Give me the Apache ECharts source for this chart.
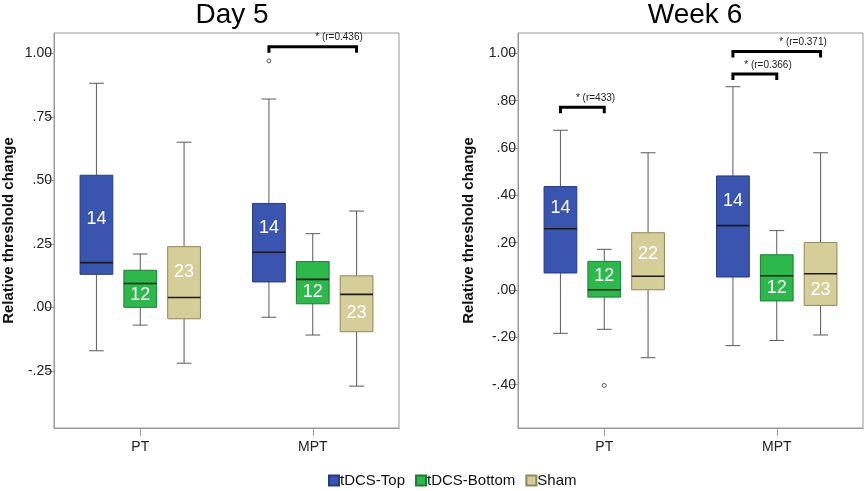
<!DOCTYPE html>
<html>
<head>
<meta charset="utf-8">
<script src="https://cdn.jsdelivr.net/npm/echarts@6/dist/echarts.min.js"></script>
<style>
html,body{margin:0;padding:0;background:#fff;}
#chart{width:864px;height:491px;}
</style>
</head>
<body>
<div id="chart"></div>
<script>
// categories and groups
var categories = ['PT', 'MPT'];
var groups = ['tDCS-Top', 'tDCS-Bottom', 'Sham'];
var groupColors = ['#3A55B0', '#2DB84B', '#D6CE98'];
var groupBorders = ['#253a85', '#1c7d34', '#8f875c'];

// Day 5 : [low, q1, median, q3, high, n] per category
var day5Top    = [[-0.171, 0.130, 0.176, 0.520, 0.882, 14], [-0.039, 0.100, 0.217, 0.409, 0.820, 14]];
var day5Bottom = [[-0.070, 0.000, 0.094, 0.146, 0.210, 12], [-0.109, 0.014, 0.110, 0.180, 0.290, 12]];
var day5Sham   = [[-0.220, -0.045, 0.039, 0.239, 0.650, 23], [-0.310, -0.096, 0.051, 0.124, 0.379, 23]];
// outliers: [category, group, value]
var day5Outliers = [[1, 0, 0.970]];
// brackets: [category, fromGroup, toGroup, value, label]
var day5Brackets = [[1, 0, 2, 1.026, '* (r=0.436)']];
var day5Ticks = [-0.25, 0, 0.25, 0.5, 0.75, 1];

// Week 6
var week6Top    = [[-0.183, 0.072, 0.259, 0.437, 0.675, 14], [-0.235, 0.055, 0.272, 0.482, 0.859, 14]];
var week6Bottom = [[-0.166, -0.030, 0.001, 0.121, 0.172, 12], [-0.213, -0.046, 0.060, 0.149, 0.251, 12]];
var week6Sham   = [[-0.286, 0.001, 0.058, 0.242, 0.580, 22], [-0.190, -0.065, 0.069, 0.201, 0.580, 23]];
var week6Outliers = [[0, 1, -0.403]];
var week6Brackets = [
	[0, 0, 1, 0.772, '* (r=433)'],
	[1, 0, 1, 0.913, '* (r=0.366)'],
	[1, 0, 2, 1.008, '* (r=0.371)']
];
var week6Ticks = [-0.4, -0.2, 0, 0.2, 0.4, 0.6, 0.8, 1];

// which half of the box holds the n label (1 = upper, 0 = lower), per category
var day5Side  = [[1, 1], [0, 0], [1, 0]];
var week6Side = [[1, 1], [1, 0], [1, 0]];

var FONT = 'Liberation Sans';
var SPACING = 0.254;  // box centre spacing as share of band
var BOXW = 0.19;      // box width as share of band

function fmt(v){
	var s = Math.abs(v).toFixed(2).replace(/^0/, '');
	return (v < -1e-9 ? '-' : '') + s;
}

function boxSeries(name, gi, grid, rows, side){
	var data = rows.map(function(r, i){ return [i].concat(r); });
	return {
		type: 'custom',
		name: name,
		xAxisIndex: grid, yAxisIndex: grid,
		itemStyle: {color: groupColors[gi], borderColor: groupBorders[gi], borderWidth: 1},
		encode: {x: 0, y: [1, 2, 3, 4, 5]},
		data: data,
		renderItem: function(params, api){
			var cat = api.value(0);
			var band = api.size([1, 0])[0];
			var off = (gi - 1) * band * SPACING;
			var bw = band * BOXW;
			var cw = bw * 0.45;
			var low = api.coord([cat, api.value(1)]);
			var q1 = api.coord([cat, api.value(2)]);
			var med = api.coord([cat, api.value(3)]);
			var q3 = api.coord([cat, api.value(4)]);
			var high = api.coord([cat, api.value(5)]);
			var x = low[0] + off;
			var wl = {stroke: '#5a5a5a', lineWidth: 1};
			var ly = side[params.dataIndex] ? (med[1] + q3[1]) / 2 : (q1[1] + med[1]) / 2;
			return {
				type: 'group',
				children: [
					{type: 'line', shape: {x1: x, y1: high[1], x2: x, y2: q3[1]}, style: wl},
					{type: 'line', shape: {x1: x, y1: q1[1], x2: x, y2: low[1]}, style: wl},
					{type: 'line', shape: {x1: x - cw / 2, y1: high[1], x2: x + cw / 2, y2: high[1]}, style: wl},
					{type: 'line', shape: {x1: x - cw / 2, y1: low[1], x2: x + cw / 2, y2: low[1]}, style: wl},
					{type: 'rect', shape: {x: x - bw / 2, y: q3[1], width: bw, height: q1[1] - q3[1]},
						style: {fill: groupColors[gi], stroke: groupBorders[gi], lineWidth: 1}},
					{type: 'line', shape: {x1: x - bw / 2, y1: med[1], x2: x + bw / 2, y2: med[1]},
						style: {stroke: '#1b1b1b', lineWidth: 1.6}},
					{type: 'text', x: x, y: ly, style: {text: String(api.value(6)), fill: '#fff',
						font: '18px ' + FONT, align: 'center', verticalAlign: 'middle'}}
				]
			};
		},
		z: 3
	};
}

function outlierSeries(grid, rows){
	return {
		type: 'custom', name: 'outliers', xAxisIndex: grid, yAxisIndex: grid,
		encode: {x: 0, y: 2},
		data: rows,
		renderItem: function(params, api){
			var band = api.size([1, 0])[0];
			var p = api.coord([api.value(0), api.value(2)]);
			return {type: 'circle', shape: {cx: p[0] + (api.value(1) - 1) * band * SPACING, cy: p[1], r: 2},
				style: {fill: '#fff', stroke: '#555', lineWidth: 1}};
		},
		z: 4
	};
}

function bracketSeries(grid, rows){
	return {
		type: 'custom', name: 'brackets', xAxisIndex: grid, yAxisIndex: grid,
		encode: {x: 0, y: 3},
		data: rows,
		renderItem: function(params, api){
			var band = api.size([1, 0])[0];
			var p = api.coord([api.value(0), api.value(3)]);
			var x1 = p[0] + (api.value(1) - 1) * band * SPACING;
			var x2 = p[0] + (api.value(2) - 1) * band * SPACING;
			return {
				type: 'group',
				children: [
					{type: 'polyline', shape: {points: [[x1, p[1] + 6], [x1, p[1]], [x2, p[1]], [x2, p[1] + 6]]},
						style: {stroke: '#000', lineWidth: 3, fill: null}},
					{type: 'text', x: x1 + (x2 - x1) * 0.8, y: p[1] - 9,
						style: {text: rows[params.dataIndex][4], fill: '#222', font: '10px ' + FONT,
							align: 'center', verticalAlign: 'middle'}}
				]
			};
		},
		z: 5
	};
}

function yAxis(grid, min, max, ticks, gap){
	return {
		type: 'value', gridIndex: grid, min: min, max: max,
		name: 'Relative threshold change', nameLocation: 'middle', nameGap: gap, nameRotate: 90,
		nameTextStyle: {fontFamily: FONT, fontSize: 15, fontWeight: 'bold', color: '#111'},
		axisLine: {show: true, lineStyle: {color: '#999'}},
		axisTick: {show: true, length: 8, lineStyle: {color: '#999'}, customValues: ticks},
		axisLabel: {fontFamily: FONT, fontSize: 14, color: '#222', margin: 2, formatter: fmt, customValues: ticks},
		splitLine: {show: false}
	};
}

function xAxis(grid){
	return {
		type: 'category', gridIndex: grid, data: categories,
		axisLine: {show: true, onZero: false, lineStyle: {color: '#999'}},
		axisTick: {show: true, alignWithLabel: true, length: 8, lineStyle: {color: '#999'}},
		axisLabel: {fontFamily: FONT, fontSize: 14, color: '#222', margin: 12}
	};
}

var chart = echarts.init(document.getElementById('chart'));
var option = {
	backgroundColor: '#fff',
	animation: false,
	title: [
		{text: 'Day 5', left: 227, top: -4, textAlign: 'center', textStyle: {fontFamily: FONT, fontSize: 28, fontWeight: 'normal', color: '#000'}},
		{text: 'Week 6', left: 690, top: -4, textAlign: 'center', textStyle: {fontFamily: FONT, fontSize: 28, fontWeight: 'normal', color: '#000'}}
	],
	legend: {
		data: groups, top: 468, left: 323, padding: 5, icon: 'rect', itemWidth: 10, itemHeight: 10, itemGap: 10,
		textStyle: {fontFamily: FONT, fontSize: 15, color: '#111', padding: [0, 0, 0, -4]}
	},
	grid: [
		{left: 53, top: 33, width: 346, height: 395, show: true, borderColor: '#999', borderWidth: 1},
		{left: 518, top: 33, width: 345, height: 395, show: true, borderColor: '#999', borderWidth: 1}
	],
	xAxis: [xAxis(0), xAxis(1)],
	yAxis: [yAxis(0, -0.475, 1.08, day5Ticks, 38), yAxis(1, -0.583, 1.086, week6Ticks, 42)],
	series: [
		boxSeries(groups[0], 0, 0, day5Top, day5Side[0]),
		boxSeries(groups[1], 1, 0, day5Bottom, day5Side[1]),
		boxSeries(groups[2], 2, 0, day5Sham, day5Side[2]),
		outlierSeries(0, day5Outliers),
		bracketSeries(0, day5Brackets),
		boxSeries(groups[0], 0, 1, week6Top, week6Side[0]),
		boxSeries(groups[1], 1, 1, week6Bottom, week6Side[1]),
		boxSeries(groups[2], 2, 1, week6Sham, week6Side[2]),
		outlierSeries(1, week6Outliers),
		bracketSeries(1, week6Brackets)
	]
};
chart.setOption(option);
</script>
</body>
</html>
